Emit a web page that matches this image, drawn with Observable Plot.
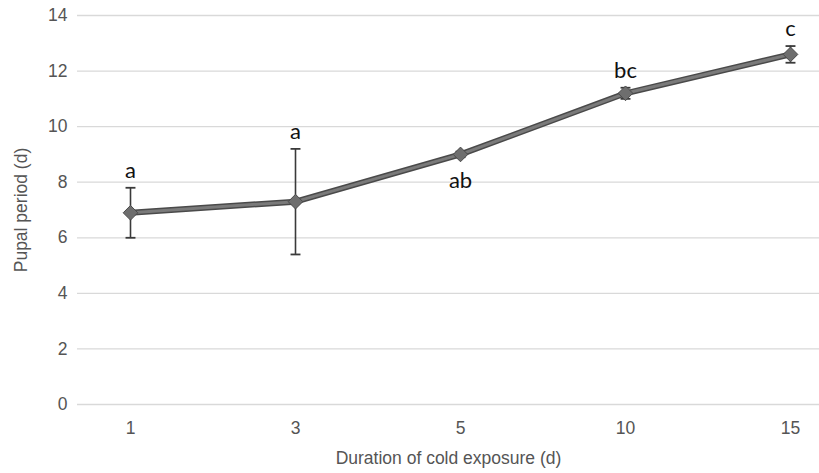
<!DOCTYPE html>
<html><head><meta charset="utf-8">
<script src="https://cdn.jsdelivr.net/npm/d3@7"></script>
<script src="https://cdn.jsdelivr.net/npm/@observablehq/plot@0.6"></script>
<style>
body{margin:0;background:#fff;}
</style></head><body><div id="chart"></div>
<script>
const durations = ["1", "3", "5", "10", "15"];
const pupalPeriod = [6.9, 7.3, 9.0, 11.2, 12.6];
const errorSize = [0.9, 1.9, 0.1, 0.2, 0.3];
const letters = ["a", "a", "ab", "bc", "c"];
const letterSide = ["above", "above", "below", "above", "above"];
const yTicks = [0, 2, 4, 6, 8, 10, 12, 14];

const rows = durations.map((d, i) => ({
  d, v: pupalPeriod[i], lo: pupalPeriod[i] - errorSize[i], hi: pupalPeriod[i] + errorSize[i],
  letter: letters[i], side: letterSide[i]
}));

const capSymbol = {draw(ctx, size) { const w = Math.sqrt(size); ctx.moveTo(-w, 0); ctx.lineTo(w, 0); }};

const axisFont = "'Liberation Sans Narrow', 'Arial Narrow', 'Liberation Sans', sans-serif";
const letterFont = "Lato, 'Open Sans', sans-serif";

const chart = Plot.plot({
  width: 819,
  height: 473,
  marginTop: 15,
  marginBottom: 69,
  marginLeft: 77,
  marginRight: 0,
  style: {fontFamily: axisFont, fontSize: "17.5px", color: "#444", background: "#fff"},
  x: {type: "point", domain: durations, range: [130, 790], padding: 0},
  y: {domain: [0, 14]},
  marks: [
    Plot.ruleY(yTicks, {stroke: "#d9d9d9", strokeWidth: 1.3}),
    Plot.ruleX([0], {frameAnchor: "left", stroke: "#d9d9d9", strokeWidth: 1.3}),
    Plot.axisY({ticks: yTicks, tickSize: 0, tickPadding: 10, fontSize: 17.5, fill: "#555",
      label: "Pupal period (d)", labelAnchor: "center", labelArrow: "none", labelOffset: 63}),
    Plot.axisX({tickSize: 0, tickPadding: 17, fontSize: 17.5, fill: "#555",
      label: "Duration of cold exposure (d)", labelAnchor: "center", labelArrow: "none", labelOffset: 59}),
    Plot.ruleX(rows, {x: "d", y1: "lo", y2: "hi", stroke: "#3a3a3a", strokeWidth: 1.6}),
    Plot.dot(rows, {x: "d", y: "lo", symbol: capSymbol, r: 2.8, stroke: "#3a3a3a", strokeWidth: 1.8}),
    Plot.dot(rows, {x: "d", y: "hi", symbol: capSymbol, r: 2.8, stroke: "#3a3a3a", strokeWidth: 1.8}),
    Plot.line(rows, {x: "d", y: "v", stroke: "#4a4a4a", strokeWidth: 6}),
    Plot.line(rows, {x: "d", y: "v", stroke: "#7a7a7a", strokeWidth: 3}),
    Plot.dot(rows, {x: "d", y: "v", symbol: "diamond2", r: 6.6, fill: "#6e6e6e", stroke: "#4a4a4a", strokeWidth: 1}),
    Plot.text(rows.filter(r => r.side === "above"), {x: "d", y: "hi", text: "letter", dy: -17,
      fontSize: 22, fill: "#111", fontFamily: letterFont}),
    Plot.text(rows.filter(r => r.side === "below"), {x: "d", y: "v", text: "letter", dy: 27,
      fontSize: 22, fill: "#111", fontFamily: letterFont})
  ]
});
document.getElementById("chart").append(chart);
</script></body></html>
